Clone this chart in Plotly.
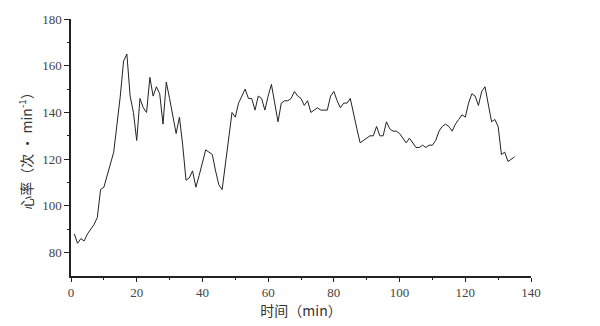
import plotly.graph_objects as go

minutes = list(range(1, 136))
heart_rate = [
    88, 84, 86, 85, 88, 90, 92, 95, 107, 108,
    113, 118, 123, 135, 147, 162, 165, 147, 140, 128,
    146, 142, 140, 155, 147, 151, 148, 135, 153, 146,
    138, 131, 138, 126, 111, 112, 115, 108, 113, 118,
    124, 123, 122, 115, 109, 107, 118, 129, 140, 138,
    144, 147, 150, 146, 146, 141, 147, 146, 141, 147,
    152, 144, 136, 144, 145, 145, 146, 149, 147, 146,
    143, 145, 140, 141, 142, 141, 141, 141, 147, 149,
    145, 142, 144, 144, 146, 139, 133, 127, 128, 129,
    130, 130, 134, 130, 130, 136, 133, 132, 132, 131,
    129, 127, 129, 127, 125, 125, 126, 125, 126, 126,
    128, 132, 134, 135, 134, 132, 135, 137, 139, 138,
    144, 148, 147, 143, 149, 151, 144, 136, 137, 134,
    122, 123, 119, 120, 121,
]

x_title = "时间（min）"
y_title = "心率（次 • min<sup>-1</sup>）"

fig = go.Figure()
fig.add_trace(go.Scatter(
    x=minutes, y=heart_rate, mode="lines",
    line=dict(color="#222222", width=1),
    showlegend=False, hoverinfo="skip",
))

tick_font = dict(family='"Liberation Serif", serif', size=13, color="#444444")
title_font = dict(family='"Noto Sans CJK SC", "Liberation Serif", serif', size=14, color="#333333")

fig.update_layout(
    width=600, height=326,
    margin=dict(l=71, r=69, t=16, b=50),
    paper_bgcolor="white", plot_bgcolor="white",
    xaxis=dict(
        range=[0, 140], tickmode="linear", tick0=0, dtick=20,
        showgrid=False, zeroline=False,
        showline=True, linecolor="#222222", linewidth=1.5,
        ticks="outside", ticklen=4, tickwidth=1.2, tickcolor="#222222",
        minor=dict(ticks="outside", ticklen=2, tickwidth=1, tickcolor="#222222", dtick=10),
        tickfont=tick_font,
        title=dict(text=x_title, font=title_font, standoff=4),
    ),
    yaxis=dict(
        range=[70, 180], tickmode="array", tickvals=[80, 100, 120, 140, 160, 180],
        showgrid=False, zeroline=False,
        showline=True, linecolor="#222222", linewidth=1.5,
        ticks="outside", ticklen=5, tickwidth=1.2, tickcolor="#222222",
        minor=dict(ticks="outside", ticklen=2, tickwidth=1, tickcolor="#222222",
                   tickvals=[90, 110, 130, 150, 170]),
        tickfont=tick_font,
        title=dict(text=y_title, font=title_font, standoff=6),
    ),
)

fig.write_html("out.html")
